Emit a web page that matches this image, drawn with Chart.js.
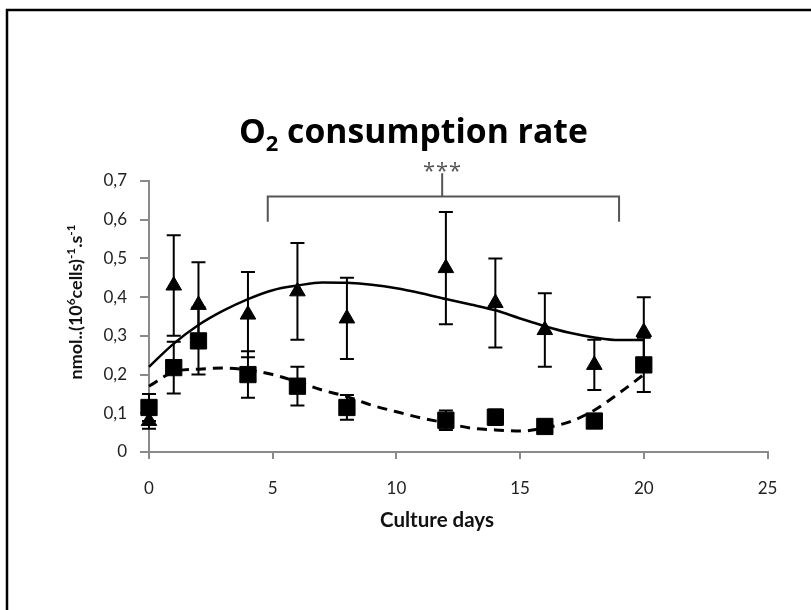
<!DOCTYPE html>
<html>
<head>
<meta charset="utf-8">
<script src="https://cdn.jsdelivr.net/npm/chart.js@4.4.0/dist/chart.umd.min.js"></script>
<style>
  html, body { margin: 0; padding: 0; background: #fff; }
  #wrap { width: 811px; height: 610px; position: relative; }
</style>
</head>
<body>
<div id="wrap"><canvas id="chart"></canvas></div>
<script>
// measured points (culture day -> rate)
const cultureDays = [0, 1, 2, 4, 6, 8, 12, 14, 16, 18, 20];
const triangleValues = [0.08, 0.43, 0.38, 0.355, 0.415, 0.345, 0.475, 0.385, 0.315, 0.225, 0.31];
const triangleErrors = [0.02, 0.13, 0.11, 0.11, 0.125, 0.105, 0.145, 0.115, 0.095, 0.065, 0.09];
const squareValues = [0.115, 0.218, 0.287, 0.2, 0.17, 0.115, 0.082, 0.09, 0.066, 0.08, 0.225];
const squareErrors = [0.035, 0.067, 0.087, 0.06, 0.05, 0.032, 0.025, 0.02, 0.01, 0.015, 0.07];

// trend lines
const trendDays = [0, 1, 2, 3, 4, 5, 6, 7, 8, 9, 10, 11, 12, 13, 14, 15, 16, 17, 18, 19, 20];
const solidTrend = [0.22, 0.28, 0.328, 0.365, 0.395, 0.418, 0.43, 0.438, 0.437, 0.432, 0.423, 0.41, 0.395, 0.381, 0.366, 0.345, 0.325, 0.308, 0.296, 0.289, 0.289];
const dashedTrend = [0.17, 0.207, 0.214, 0.217, 0.212, 0.2, 0.181, 0.16, 0.143, 0.121, 0.104, 0.088, 0.075, 0.062, 0.057, 0.054, 0.062, 0.078, 0.108, 0.152, 0.2];

// significance bracket: left end, centre, right end (days) and levels
const bracketDays = [4.8, 11.85, 19];
const bracketLevels = [0.595, 0.66, 0.72];

const xTicks = [0, 5, 10, 15, 20, 25];
const yTicks = ['0', '0,1', '0,2', '0,3', '0,4', '0,5', '0,6', '0,7'];

const toPoints = (xs, ys) => xs.map((x, i) => ({ x: x, y: ys[i] }));

// font size that makes the given runs [text, scale] span `width` px
function fitSize(ctx, runs, weight, family, width) {
    let w = 0;
    runs.forEach(([t, k]) => { ctx.font = `${weight} ${20 * k}px ${family}`; w += ctx.measureText(t).width; });
    return 20 * width / w;
}

const decorations = {
    id: 'decorations',
    beforeDatasetsDraw(chart) {
        const { ctx, scales: { x, y } } = chart;
        ctx.save();
        ctx.strokeStyle = '#000';
        ctx.lineWidth = 2;
        const bars = [[triangleValues, triangleErrors], [squareValues, squareErrors]];
        bars.forEach(([vals, errs]) => {
            vals.forEach((v, i) => {
                const px = x.getPixelForValue(cultureDays[i]);
                const top = y.getPixelForValue(v + errs[i]);
                const bot = y.getPixelForValue(v - errs[i]);
                ctx.beginPath();
                ctx.moveTo(px, top); ctx.lineTo(px, bot);
                ctx.moveTo(px - 7, top); ctx.lineTo(px + 7, top);
                ctx.moveTo(px - 7, bot); ctx.lineTo(px + 7, bot);
                ctx.stroke();
            });
        });
        ctx.restore();
    },
    afterDraw(chart) {
        const { ctx, scales: { x, y } } = chart;
        ctx.save();

        // outer frame
        ctx.strokeStyle = '#000';
        ctx.lineWidth = 2.5;
        ctx.beginPath();
        ctx.moveTo(7, 612); ctx.lineTo(7, 10); ctx.lineTo(813, 10);
        ctx.stroke();

        // bracket with ***
        const xl = x.getPixelForValue(bracketDays[0]);
        const xc = x.getPixelForValue(bracketDays[1]);
        const xr = x.getPixelForValue(bracketDays[2]);
        const yLow = y.getPixelForValue(bracketLevels[0]);
        const yMid = y.getPixelForValue(bracketLevels[1]);
        const yTop = y.getPixelForValue(bracketLevels[2]);
        ctx.strokeStyle = '#555';
        ctx.lineWidth = 2;
        ctx.beginPath();
        ctx.moveTo(xl, yLow); ctx.lineTo(xl, yMid); ctx.lineTo(xr, yMid); ctx.lineTo(xr, yLow);
        ctx.moveTo(xc, yMid); ctx.lineTo(xc, yTop);
        ctx.stroke();
        ctx.fillStyle = '#555';
        ctx.font = '22px "Open Sans"';
        ctx.textAlign = 'center';
        ctx.textBaseline = 'alphabetic';
        [-13, 0, 13].forEach(dx => ctx.fillText('*', xc + dx, yTop + 5));

        // chart title with subscript
        ctx.fillStyle = '#000';
        ctx.textAlign = 'left';
        const rest = ' consumption rate';
        const ts = fitSize(ctx, [['O', 1], ['2', 0.65], [rest, 1]], 'bold', '"Open Sans"', 349);
        const big = `bold ${ts}px "Open Sans"`, small = `bold ${ts * 0.65}px "Open Sans"`;
        let tx = 239;
        ctx.font = big; ctx.fillText('O', tx, 143); tx += ctx.measureText('O').width;
        ctx.font = small; ctx.fillText('2', tx, 151); tx += ctx.measureText('2').width;
        ctx.font = big; ctx.fillText(rest, tx, 143);

        // x axis title
        ctx.fillStyle = '#111';
        ctx.textAlign = 'center';
        ctx.textBaseline = 'middle';
        const xs = fitSize(ctx, [['Culture days', 1]], 'bold', 'Lato', 114);
        ctx.font = `bold ${xs}px Lato`;
        ctx.fillText('Culture days', 437, 520);

        // y axis title (rotated, with superscripts)
        const parts = [['nmol..(10', false], ['6', true], ['cells)', false], ['-1', true], ['.s', false], ['-1', true]];
        const ys = fitSize(ctx, parts.map(([t, sup]) => [t, sup ? 0.65 : 1]), 'bold', 'Lato', 155);
        const fontFor = sup => `bold ${sup ? ys * 0.65 : ys}px Lato`;
        ctx.translate(76, 302);
        ctx.rotate(-Math.PI / 2);
        ctx.textAlign = 'left';
        ctx.textBaseline = 'alphabetic';
        let px = -155 / 2;
        parts.forEach(([t, sup]) => {
            ctx.font = fontFor(sup);
            ctx.fillText(t, px, sup ? -ys * 0.05 : ys * 0.35);
            px += ctx.measureText(t).width;
        });
        ctx.restore();
    }
};

new Chart(document.getElementById('chart'), {
    type: 'scatter',
    data: {
        datasets: [
            {
                label: 'triangles',
                data: toPoints(cultureDays, triangleValues),
                pointStyle: 'triangle',
                pointRadius: 9,
                pointHoverRadius: 9,
                backgroundColor: '#000',
                borderColor: '#000',
                borderWidth: 1,
                clip: false
            },
            {
                label: 'squares',
                data: toPoints(cultureDays, squareValues),
                pointStyle: 'rect',
                pointRadius: 11.5,
                pointHoverRadius: 11.5,
                backgroundColor: '#000',
                borderColor: '#000',
                borderWidth: 1,
                clip: false
            },
            {
                label: 'solid trend',
                data: toPoints(trendDays, solidTrend),
                showLine: true,
                pointRadius: 0,
                borderColor: '#000',
                borderWidth: 2.5,
                cubicInterpolationMode: 'monotone',
                clip: false
            },
            {
                label: 'dashed trend',
                data: toPoints(trendDays, dashedTrend),
                showLine: true,
                pointRadius: 0,
                borderColor: '#000',
                borderWidth: 3,
                borderDash: [10, 7],
                cubicInterpolationMode: 'monotone',
                clip: false
            }
        ]
    },
    options: {
        responsive: true,
        maintainAspectRatio: false,
        animation: false,
        events: [],
        layout: { padding: { top: 181, right: 43.5, bottom: 0, left: 0 } },
        plugins: {
            legend: { display: false },
            tooltip: { enabled: false },
            title: { display: false }
        },
        scales: {
            x: {
                type: 'linear',
                min: 0,
                max: 25,
                afterBuildTicks: s => { s.ticks = xTicks.map(v => ({ value: v })); },
                ticks: {
                    font: { family: 'Lato', size: 17 },
                    color: '#222',
                    padding: 19,
                    maxRotation: 0
                },
                grid: { drawOnChartArea: false, tickLength: 7, color: '#8a8a8a', lineWidth: 2 },
                border: { color: '#8a8a8a', width: 2 },
                afterFit: s => { s.height = 158; }
            },
            y: {
                min: 0,
                max: 0.7,
                afterBuildTicks: s => { s.ticks = yTicks.map((t, i) => ({ value: i / 10 })); },
                ticks: {
                    font: { family: 'Lato', size: 17 },
                    color: '#222',
                    padding: 13,
                    callback: (v, i) => yTicks[i]
                },
                grid: { drawOnChartArea: false, tickLength: 9, color: '#8a8a8a', lineWidth: 2 },
                border: { color: '#8a8a8a', width: 2 },
                afterFit: s => { s.width = 149; }
            }
        }
    },
    plugins: [decorations]
});
</script>
</body>
</html>
